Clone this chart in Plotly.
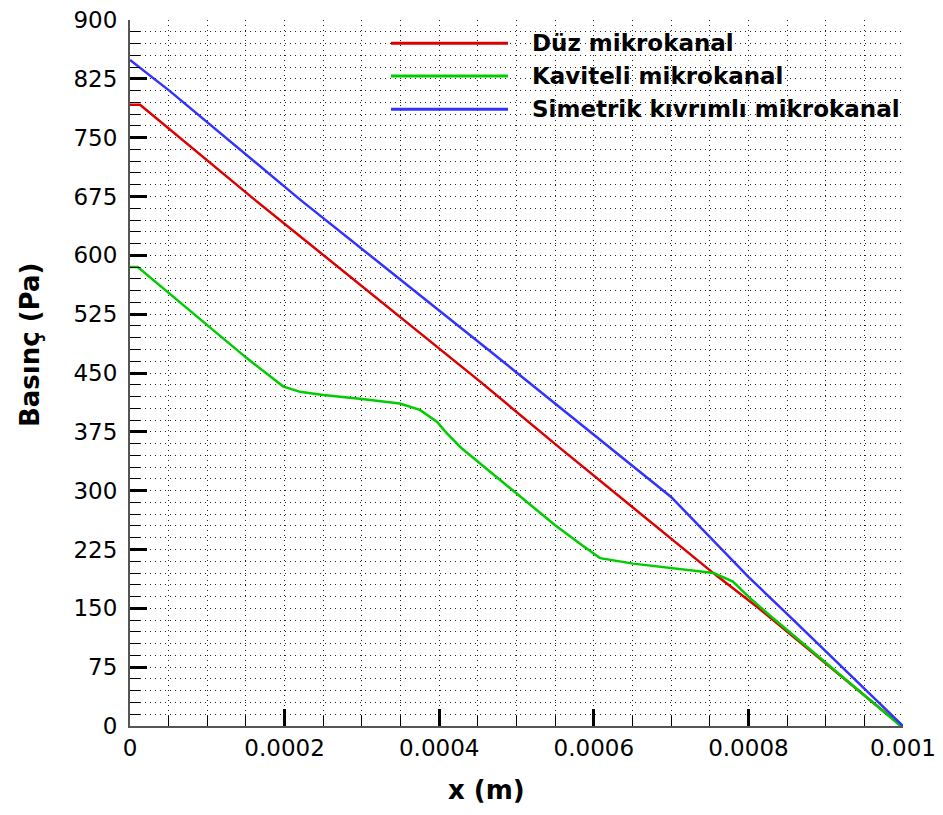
import plotly.graph_objects as go

# ---- data ----
duz_x = [0, 0.000013, 0.00016, 0.000453, 0.000558, 0.000757, 0.000811, 0.000998]
duz_p = [792, 792, 672, 439, 353, 193, 152, 0]

kav_x = [0, 0.00001, 0.0000647, 0.000151, 0.000198, 0.00022, 0.00025, 0.0003,
         0.000349, 0.000375, 0.000397, 0.00041, 0.000429, 0.000479, 0.00055,
         0.000584, 0.000608, 0.000651, 0.000701, 0.000755, 0.00078, 0.0008,
         0.000824, 0.000867, 0.000997]
kav_p = [585, 585, 540, 469, 433, 426, 422, 417, 411, 403, 388, 373, 354, 314,
         256, 231, 214, 207, 201, 195, 184, 165, 144, 108, 0]

sim_x = [0, 0.000052, 0.00022, 0.000453, 0.0007, 0.0008, 0.00085, 0.0009,
         0.00095, 0.001]
sim_p = [849, 809, 671, 488, 292, 190, 143, 95, 48, 0]

names = ["Düz mikrokanal", "Kaviteli mikrokanal", "Simetrik kıvrımlı mikrokanal"]
colors = ["#dd0000", "#00cc00", "#3333ff"]

x_ticks = [0, 0.0002, 0.0004, 0.0006, 0.0008, 0.001]
x_tick_text = ["0", "0.0002", "0.0004", "0.0006", "0.0008", "0.001"]
y_ticks = list(range(0, 901, 75))

FONT = "DejaVu Sans, sans-serif"

fig = go.Figure()
for xs, ps, name, col in zip([duz_x, kav_x, sim_x], [duz_p, kav_p, sim_p], names, colors):
    fig.add_trace(go.Scatter(x=xs, y=ps, mode="lines", name=name,
                             line=dict(color=col, width=2.5), showlegend=False))

# manual legend (long line samples like the reference)
leg_y = [0.9670, 0.9207, 0.8735]
for name, col, ly in zip(names, colors, leg_y):
    fig.add_shape(type="line", xref="paper", yref="paper",
                  x0=0.3376, x1=0.4890, y0=ly, y1=ly,
                  line=dict(color=col, width=3))
    fig.add_annotation(xref="paper", yref="paper", x=0.5175, y=ly,
                       text="<b>" + name + "</b>", showarrow=False,
                       xanchor="left", yanchor="middle",
                       font=dict(family=FONT, size=23, color="black"))

# axis titles
fig.add_annotation(xref="paper", yref="paper", x=(486 - 130) / 773, y=-(790 - 726) / 706,
                   text="<b>x (m)</b>", showarrow=False, xanchor="center", yanchor="middle",
                   font=dict(family=FONT, size=26, color="black"))
fig.add_annotation(xref="paper", yref="paper", x=-(130 - 30) / 773, y=(726 - 345) / 706,
                   text="<b>Basınç (Pa)</b>", showarrow=False, textangle=-90,
                   xanchor="center", yanchor="middle",
                   font=dict(family=FONT, size=26, color="black"))

fig.update_layout(
    width=943, height=815,
    margin=dict(l=130, r=40, t=20, b=89, autoexpand=False),
    paper_bgcolor="white", plot_bgcolor="white",
    font=dict(family=FONT, color="black"),
)

GRID = "#222222"
DASH = "1px,4px"
fig.update_xaxes(
    range=[0, 0.001], tickvals=x_ticks, ticktext=x_tick_text, automargin=False,
    tickfont=dict(size=23, family=FONT),
    ticks="inside", ticklen=17, tickwidth=3, tickcolor="black",
    showline=True, linecolor="#555555", linewidth=2,
    showgrid=True, gridcolor=GRID, gridwidth=1, griddash=DASH,
    zeroline=False,
    minor=dict(dtick=0.00005, ticks="inside", ticklen=10, tickwidth=1, tickcolor="black",
               showgrid=True, gridcolor=GRID, gridwidth=1, griddash=DASH),
)
fig.update_yaxes(
    range=[0, 900], tickvals=y_ticks, automargin=False,
    tickfont=dict(size=23, family=FONT),
    ticks="inside", ticklen=17, tickwidth=3, tickcolor="black",
    showline=True, linecolor="#555555", linewidth=2,
    showgrid=True, gridcolor=GRID, gridwidth=1, griddash=DASH,
    zeroline=False, ticklabelstandoff=6,
    minor=dict(dtick=15, ticks="inside", ticklen=10, tickwidth=1, tickcolor="black",
               showgrid=True, gridcolor=GRID, gridwidth=1, griddash=DASH),
)

fig.write_html("out.html")
